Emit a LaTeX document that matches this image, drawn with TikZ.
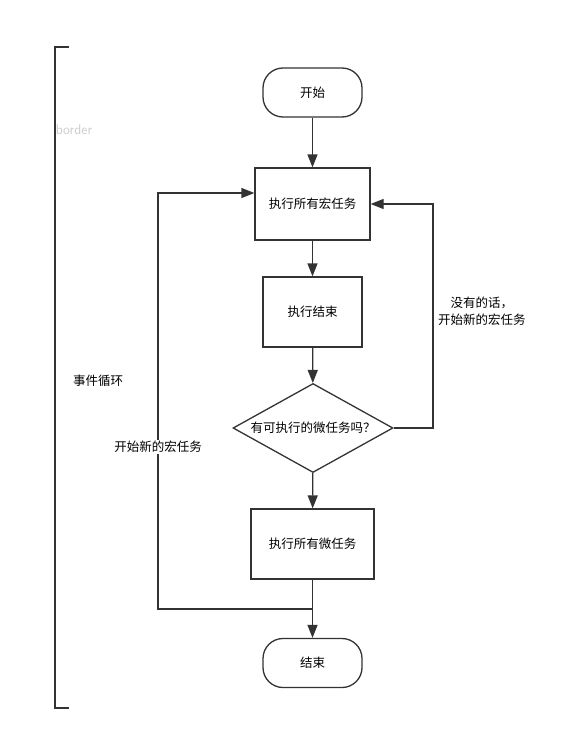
\documentclass[tikz,border=0pt]{standalone}
\usepackage{fontspec}
\newfontfamily\cjk{Noto Sans CJK SC}
\usetikzlibrary{shapes.geometric,arrows.meta}
\definecolor{ln}{HTML}{333333}
\tikzset{
  x=1pt,y=-1pt,
  every node/.style={font=\cjk\fontsize{12.5}{17}\selectfont,text=black},
  term/.style={draw=ln,line width=1.3pt,rounded corners=20pt,minimum width=99pt,minimum height=49pt,inner sep=0pt},
  proc/.style={draw=ln,line width=1.3pt,inner sep=0pt},
  dec/.style={draw=ln,line width=1.3pt,diamond,aspect=1.8,inner sep=0pt,minimum width=160pt,minimum height=89pt},
  conn/.style={draw=ln,line width=1.3pt,-{Triangle[length=13pt,width=10pt]}},
  plain/.style={draw=ln,line width=1.3pt},
}
\begin{document}
\begin{tikzpicture}
\useasboundingbox (0,0) rectangle (567,741);
% bracket
\draw[ln,line width=1.6pt] (69,47) -- (55,47) -- (55,708) -- (69,708);
\node[text=black!20,font=\sffamily\fontsize{14}{15}\selectfont] (bd) at (74,130) {border};
\node (ev) at (98,381) {事件循环};
% nodes
\node[term] (start) at (312.5,92.5) {开始};
\node[proc,minimum width=115pt,minimum height=72pt] (m1) at (312.5,204) {执行所有宏任务};
\node[proc,minimum width=99pt,minimum height=70pt] (done) at (312.5,312) {执行结束};
\node[dec] (q) at (313,428) {有可执行的微任务吗？};
\node[proc,minimum width=123pt,minimum height=70pt] (mi) at (312.5,544) {执行所有微任务};
\node[term] (end) at (312.5,663) {结束};
% helper coordinates
\coordinate (r1) at (433,428);
\coordinate (r2) at (433,204);
\coordinate (j) at (312.5,609);
\coordinate (l1) at (158,609);
\coordinate (l2) at (158,193);
\coordinate (l3) at (m1.west |- l2);
% connectors
\draw[conn] (start) -- (m1);
\draw[conn] (m1) -- (done);
\draw[conn] (done) -- (q);
\draw[conn] (q) -- (mi);
\draw[conn] (mi) -- (end);
\draw[conn] (q.east) -- (r1) -- (r2) -- (m1.east);
\draw[conn] (j) -- (l1) -- (l2) -- (l3);
% labels
\node[fill=white,inner sep=1pt] (lb1) at (158,447) {开始新的宏任务};
\node[align=center,anchor=west,inner sep=0pt] (lb2) at (438,311) {没有的话，\\开始新的宏任务};
\end{tikzpicture}
\end{document}
